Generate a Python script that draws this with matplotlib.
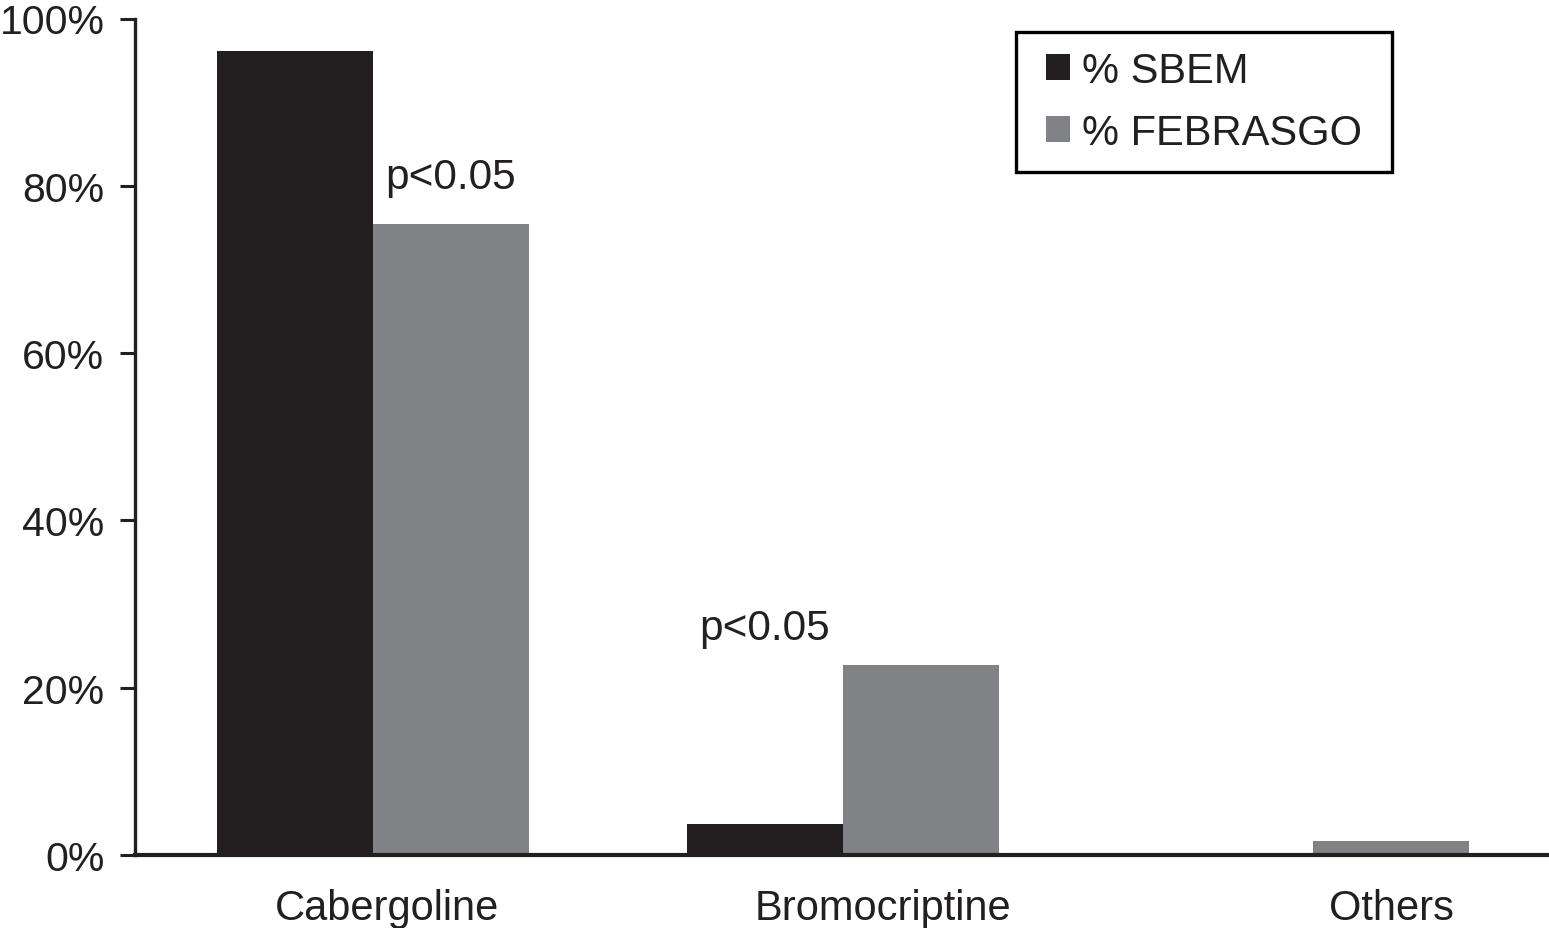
import matplotlib
matplotlib.use("Agg")
import matplotlib.pyplot as plt
from matplotlib.patches import Rectangle
import numpy as np

categories = ["Cabergoline", "Bromocriptine", "Others"]
sbem = [96.1, 3.7, 0.0]
febrasgo = [75.4, 22.7, 1.7]
series_names = ["% SBEM", "% FEBRASGO"]
yticks = [0, 20, 40, 60, 80, 100]
ytick_labels = ["0%", "20%", "40%", "60%", "80%", "100%"]
annotations = [("p<0.05", 0, "febrasgo", 79.7), ("p<0.05", 1, "sbem", 25.8)]

c_sbem = "#231f20"
c_feb = "#808285"
txt = "#231f20"

plt.rcParams["font.family"] = ["Liberation Sans", "DejaVu Sans"]

W, H = 1549, 929
fig = plt.figure(figsize=(W / 100, H / 100), dpi=100)
ax = fig.add_axes([135 / W, 1 - 856 / H, 1 - 135 / W, (856 - 19.5) / H])

x = np.arange(len(categories))
w = 0.332
ax.bar(x - w / 2, sbem, width=w, color=c_sbem, label=series_names[0], zorder=2)
ax.bar(x + w / 2, febrasgo, width=w, color=c_feb, label=series_names[1], zorder=2)

for text, idx, ser, yv in annotations:
    xc = idx - w / 2 if ser == "sbem" else idx + w / 2
    ax.text(xc, yv, text, ha="center", va="baseline", fontsize=30.5, color=txt)

ax.set_xlim(-0.506, 2.502)
ax.set_ylim(0, 100)
ax.set_yticks(yticks)
ax.set_yticklabels(ytick_labels, fontsize=29.5, color=txt)

label_offsets = [0.03, 0.086, 0.166]
ax.set_xticks(x + np.array(label_offsets))
ax.set_xticklabels(categories, fontsize=30, color=txt)
ax.tick_params(axis="x", length=0, pad=23.5)
ax.tick_params(axis="y", length=11, width=2.2, color=txt, pad=11, direction="out")

for s in ["top", "right"]:
    ax.spines[s].set_visible(False)
ax.spines["left"].set_linewidth(2.4)
ax.spines["left"].set_color(txt)
ax.spines["bottom"].set_linewidth(3)
ax.spines["bottom"].set_color(txt)
ax.spines["bottom"].set_zorder(3)

# legend frame
fig.patches.append(Rectangle((1016 / W, 1 - 173 / H), (1392 - 1016) / W, (173 - 33) / H,
                             transform=fig.transFigure, fill=False, edgecolor="black",
                             linewidth=2.4, zorder=5))
leg = ax.legend(loc="upper left", bbox_to_anchor=(1046 / W, 1 - 52 / H),
                bbox_transform=fig.transFigure, fontsize=30, frameon=False,
                handlelength=0.576, handleheight=0.576, handletextpad=0.3,
                labelspacing=0.53, borderpad=0, borderaxespad=0)
for t in leg.get_texts():
    t.set_color(txt)

fig.savefig("out.png", dpi=100)
